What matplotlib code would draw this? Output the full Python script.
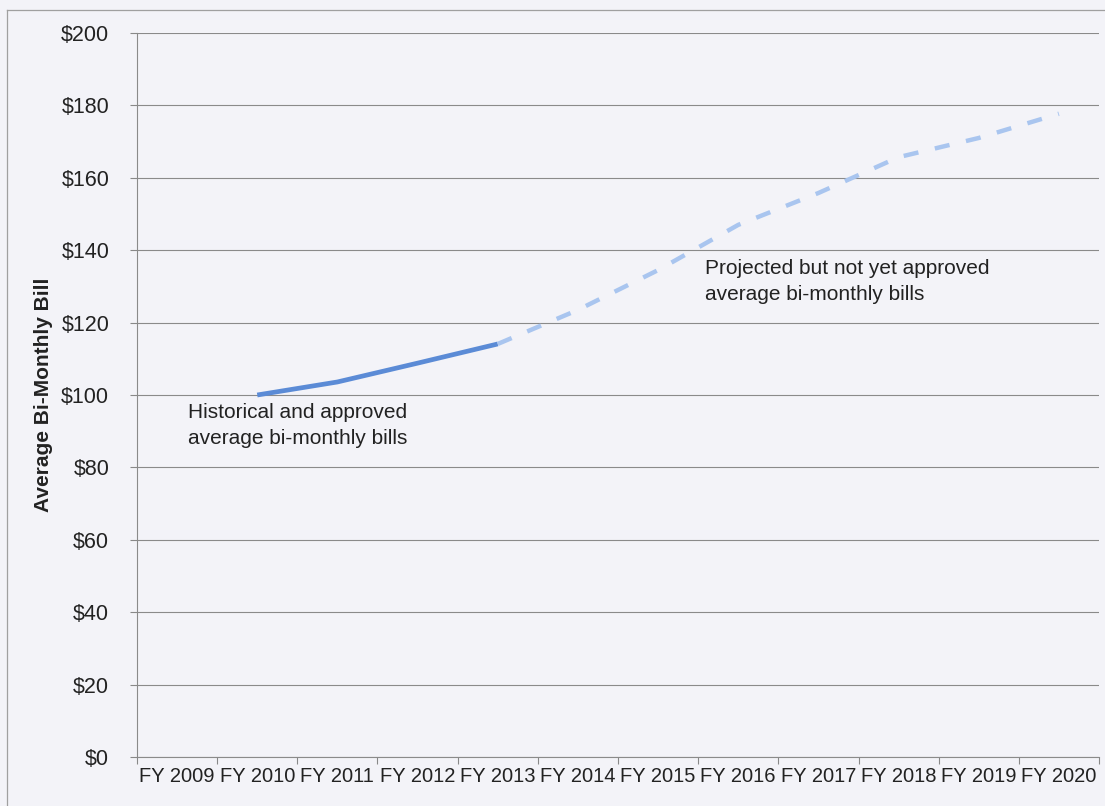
import matplotlib
matplotlib.use("Agg")
import matplotlib.pyplot as plt
from matplotlib.lines import Line2D

plt.rcParams['font.family'] = ['Liberation Sans', 'DejaVu Sans']

categories = ["FY 2009", "FY 2010", "FY 2011", "FY 2012", "FY 2013", "FY 2014",
              "FY 2015", "FY 2016", "FY 2017", "FY 2018", "FY 2019", "FY 2020"]
hist_years = ["FY 2010", "FY 2011", "FY 2012", "FY 2013"]
hist_values = [100.0, 103.6, 108.8, 114.1]
proj_years = ["FY 2013", "FY 2014", "FY 2015", "FY 2016", "FY 2017",
              "FY 2018", "FY 2019", "FY 2020"]
proj_values = [114.1, 123.5, 134.5, 147.0, 155.8, 165.7, 171.0, 177.7]
yticks = [0, 20, 40, 60, 80, 100, 120, 140, 160, 180, 200]

bg = '#f3f3f8'
fig = plt.figure(figsize=(11.05, 8.06), dpi=100, facecolor=bg)
W, H = 1105, 806
ax = fig.add_axes([137 / W, 1 - 757 / H, (1099 - 137) / W, (757 - 33) / H])
ax.set_facecolor(bg)

idx = {c: i for i, c in enumerate(categories)}
ax.plot([idx[c] for c in hist_years], hist_values, color='#5b8bd6', lw=3.4,
        solid_capstyle='butt', zorder=3)
ax.plot([idx[c] for c in proj_years], proj_values, color='#a9c5ef', lw=3.2,
        dashes=(3.4, 3.8), dash_capstyle='butt', zorder=3)

ax.set_xlim(-0.5, len(categories) - 0.5)
ax.set_ylim(0, 200)
ax.set_yticks(yticks)
ax.set_yticklabels([f"${v}" for v in yticks])
ax.set_xticks(range(len(categories)))
ax.set_xticklabels(categories)
ax.set_xticks([i - 0.5 for i in range(len(categories) + 1)], minor=True)

ax.tick_params(axis='x', which='major', length=0, pad=7, labelsize=14.5, colors='#222222')
ax.tick_params(axis='x', which='minor', length=5, width=0.8, color='#888888', direction='out')
ax.tick_params(axis='y', which='major', length=5, width=0.8, color='#888888', pad=15,
               labelsize=15.5, labelcolor='#222222')

ax.grid(axis='y', color='#8a8a8a', lw=0.8)
ax.set_axisbelow(True)
for s in ['top', 'right']:
    ax.spines[s].set_visible(False)
for s in ['left', 'bottom']:
    ax.spines[s].set_color('#8a8a8a')
    ax.spines[s].set_linewidth(0.8)

ax.set_ylabel("Average Bi-Monthly Bill", fontsize=15, fontweight='bold', color='#222222')
ax.yaxis.set_label_coords((53 - 137) / (1099 - 137), 0.5)

ax.text(0.14, 97.8, "Historical and approved\naverage bi-monthly bills",
        fontsize=15, color='#222222', va='top', ha='left', linespacing=1.45)
ax.text(6.58, 137.6, "Projected but not yet approved\naverage bi-monthly bills",
        fontsize=15, color='#222222', va='top', ha='left', linespacing=1.45)

# outer frame
fig.add_artist(Line2D([7 / W, 7 / W], [0, 1 - 10 / H], transform=fig.transFigure,
                      color='#a0a0a0', lw=0.9))
fig.add_artist(Line2D([7 / W, 1], [1 - 10 / H, 1 - 10 / H], transform=fig.transFigure,
                      color='#a0a0a0', lw=0.9))

fig.savefig("out.png", dpi=100, facecolor=bg)
